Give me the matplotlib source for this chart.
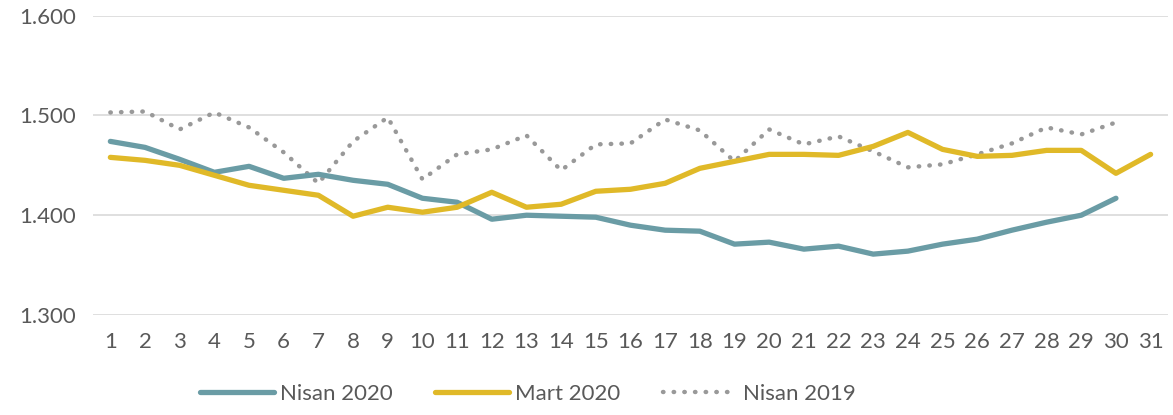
import matplotlib.pyplot as plt
from matplotlib.ticker import FuncFormatter

plt.rcParams['font.family'] = ['Lato', 'DejaVu Sans']

# days of month
days = list(range(1, 32))

nisan_2020 = [1474, 1468, 1456, 1443, 1449, 1437, 1441, 1435, 1431, 1417,
              1413, 1396, 1400, 1399, 1398, 1390, 1385, 1384, 1371, 1373,
              1366, 1369, 1361, 1364, 1371, 1376, 1385, 1393, 1400, 1417]

mart_2020 = [1458, 1455, 1450, 1440, 1430, 1425, 1420, 1399, 1408, 1403,
             1408, 1423, 1408, 1411, 1424, 1426, 1432, 1447, 1454, 1461,
             1461, 1460, 1469, 1483, 1466, 1459, 1460, 1465, 1465, 1442,
             1461]

nisan_2019 = [1503, 1504, 1486, 1503, 1488, 1463, 1432, 1474, 1498, 1436,
              1461, 1466, 1480, 1445, 1471, 1472, 1496, 1485, 1454, 1486,
              1471, 1479, 1464, 1448, 1451, 1461, 1472, 1488, 1481, 1493]

yticks = [1300, 1400, 1500, 1600]

fig = plt.figure(figsize=(11.73, 4.15), dpi=100)
ax = fig.add_axes([0.0793, 0.241, 0.9164, 0.7212])

ax.plot(days[:len(nisan_2020)], nisan_2020, color='#6A9CA5', lw=3.8,
        solid_capstyle='round', solid_joinstyle='round', label='Nisan 2020', zorder=3)
ax.plot(days[:len(mart_2020)], mart_2020, color='#E0B928', lw=3.8,
        solid_capstyle='round', solid_joinstyle='round', label='Mart 2020', zorder=3)
ax.plot(days[:len(nisan_2019)], nisan_2019, color='#999999', lw=3.2,
        linestyle=(0, (0.1, 2.3)), dash_capstyle='round', label='Nisan 2019', zorder=2)

ax.set_xlim(0.5, 31.5)
ax.set_ylim(1300, 1600)
ax.set_yticks(yticks)
ax.yaxis.set_major_formatter(FuncFormatter(lambda v, p: f'{v/1000:.3f}'))
ax.set_xticks(days)
ax.grid(axis='y', color='#D9D9D9', lw=1.2)
ax.set_axisbelow(True)
for s in ax.spines.values():
    s.set_visible(False)
ax.tick_params(axis='both', length=0, labelsize=16, labelcolor='#595959')
ax.tick_params(axis='y', pad=12)
ax.tick_params(axis='x', pad=12)

leg = fig.legend(loc='center', bbox_to_anchor=(0.45, 0.05), ncol=3, frameon=False,
                 fontsize=16, handlelength=3.3, columnspacing=1.9, handletextpad=0.3)
for t in leg.get_texts():
    t.set_color('#595959')

fig.savefig('out.png', dpi=100)
